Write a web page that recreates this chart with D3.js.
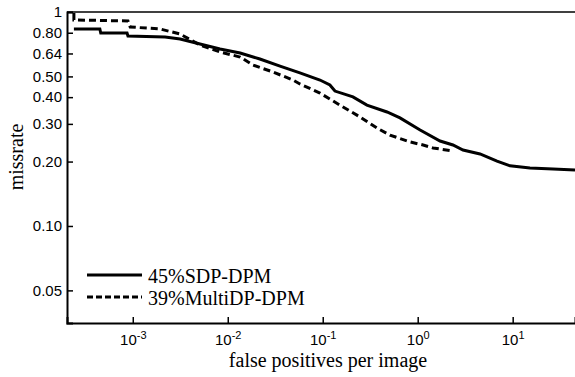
<!DOCTYPE html>
<html>
<head>
<meta charset="utf-8">
<script src="https://cdn.jsdelivr.net/npm/d3@7"></script>
<style>
  body { margin: 0; background: #fff; }
  svg { display: block; }
</style>
</head>
<body>
<script>
// series: [false positives per image, miss rate]
const sdpFppi = [2.4e-4, 4.5e-4, 4.6e-4, 8.7e-4, 8.9e-4, 2.19e-3, 3.15e-3, 5.1e-3, 8.3e-3, 0.0135, 0.0218, 0.0355, 0.0575, 0.0935, 0.119, 0.1345, 0.208, 0.292, 0.475, 0.651, 1.06, 1.72, 2.35, 3.0, 4.53, 6.84, 9.37, 15.2, 26.6, 45.3];
const sdpMiss = [0.833, 0.833, 0.798, 0.798, 0.772, 0.764, 0.748, 0.709, 0.672, 0.643, 0.603, 0.559, 0.519, 0.481, 0.456, 0.427, 0.401, 0.367, 0.341, 0.320, 0.281, 0.2495, 0.239, 0.2265, 0.217, 0.201, 0.191, 0.1866, 0.1846, 0.1826];
const multiFppi = [2.4e-4, 2.4e-4, 8.9e-4, 9.4e-4, 1.94e-3, 3.15e-3, 5.1e-3, 8.3e-3, 0.0135, 0.01845, 0.030, 0.0487, 0.0575, 0.0935, 0.152, 0.247, 0.372, 0.510, 0.830, 1.14, 1.45, 2.35];
const multiMiss = [0.989, 0.918, 0.908, 0.851, 0.833, 0.789, 0.701, 0.650, 0.616, 0.565, 0.524, 0.481, 0.461, 0.418, 0.367, 0.323, 0.287, 0.266, 0.247, 0.239, 0.2315, 0.224];

const seriesNames = ["45%SDP-DPM", "39%MultiDP-DPM"];
const yTicks = [0.05, 0.1, 0.2, 0.3, 0.4, 0.5, 0.64, 0.8, 1];
const xTicks = [1e-3, 1e-2, 1e-1, 1, 10];
const xTickExp = ["-3", "-2", "-1", "0", "1"];

function main(){
    const canvasWidth = 575;
    const canvasHeight = 377;
    const left = 67, right = 575, top = 12, bottom = 323;

    const svg = d3.select("body").append("svg")
        .attr("width", canvasWidth)
        .attr("height", canvasHeight);

    const xScale = d3.scaleLog().domain([2.03e-4, 45.3]).range([left, right]);
    const yScale = d3.scaleLog().domain([0.0352, 1]).range([bottom, top]);

    // frame: top border
    svg.append("line")
        .attr("x1", left).attr("x2", right)
        .attr("y1", top).attr("y2", top)
        .attr("stroke", "#000").attr("stroke-width", 1.6);

    // y axis
    const yAxis = svg.append("g")
        .attr("transform", `translate(${left},0)`)
        .call(d3.axisLeft(yScale).tickValues(yTicks).tickSize(-6).tickPadding(5)
            .tickFormat(d => d === 1 ? "1" : d.toFixed(2)));
    yAxis.select(".domain").attr("stroke-width", 2);
    yAxis.selectAll(".tick line").attr("stroke-width", 1.5);
    yAxis.selectAll(".tick text")
        .attr("font-family", "Liberation Sans, Arial, sans-serif")
        .attr("font-size", "15px")
        .attr("fill", "#000");

    // x axis
    const xAxis = svg.append("g")
        .attr("transform", `translate(0,${bottom})`)
        .call(d3.axisBottom(xScale).tickValues(xTicks).tickSize(-6).tickPadding(5)
            .tickFormat(""));
    xAxis.select(".domain").attr("stroke-width", 2);
    xAxis.selectAll(".tick line").attr("stroke-width", 1.5);
    xAxis.selectAll(".tick text").remove();
    xAxis.selectAll(".tick").each(function(d, i){
        const t = d3.select(this).append("text")
            .attr("y", 22)
            .attr("fill", "#000")
            .attr("text-anchor", "middle")
            .attr("font-family", "Liberation Sans, Arial, sans-serif")
            .attr("font-size", "15px");
        t.append("tspan").text("10");
        t.append("tspan").attr("dy", -6).attr("font-size", "11px").text(xTickExp[i]);
    });

    // curves
    const line = d3.line()
        .x(d => xScale(d[0]))
        .y(d => yScale(d[1]));

    const sdp = sdpFppi.map((f, i) => [f, sdpMiss[i]]);
    const multi = multiFppi.map((f, i) => [f, multiMiss[i]]);

    svg.append("path")
        .datum(multi)
        .attr("d", line)
        .attr("fill", "none")
        .attr("stroke", "#000")
        .attr("stroke-width", 3)
        .attr("stroke-dasharray", "7,4");

    svg.append("path")
        .datum(sdp)
        .attr("d", line)
        .attr("fill", "none")
        .attr("stroke", "#000")
        .attr("stroke-width", 3);

    // legend
    const legend = svg.append("g");
    seriesNames.forEach((name, i) => {
        const y = 275 + i * 22;
        legend.append("line")
            .attr("x1", 87).attr("x2", 142)
            .attr("y1", y).attr("y2", y)
            .attr("stroke", "#000")
            .attr("stroke-width", 3)
            .attr("stroke-dasharray", i === 1 ? "6,3" : null);
        legend.append("text")
            .attr("x", 148)
            .attr("y", y + 8)
            .attr("font-family", "Liberation Serif, Times New Roman, serif")
            .attr("font-size", "20px")
            .text(name);
    });

    // axis titles
    svg.append("text")
        .attr("x", 328)
        .attr("y", 367)
        .attr("text-anchor", "middle")
        .attr("font-family", "Liberation Serif, Times New Roman, serif")
        .attr("font-size", "20px")
        .text("false positives per image");

    svg.append("text")
        .attr("transform", "translate(23,157) rotate(-90)")
        .attr("text-anchor", "middle")
        .attr("font-family", "Liberation Serif, Times New Roman, serif")
        .attr("font-size", "20px")
        .text("missrate");
}
main();
</script>
</body>
</html>
